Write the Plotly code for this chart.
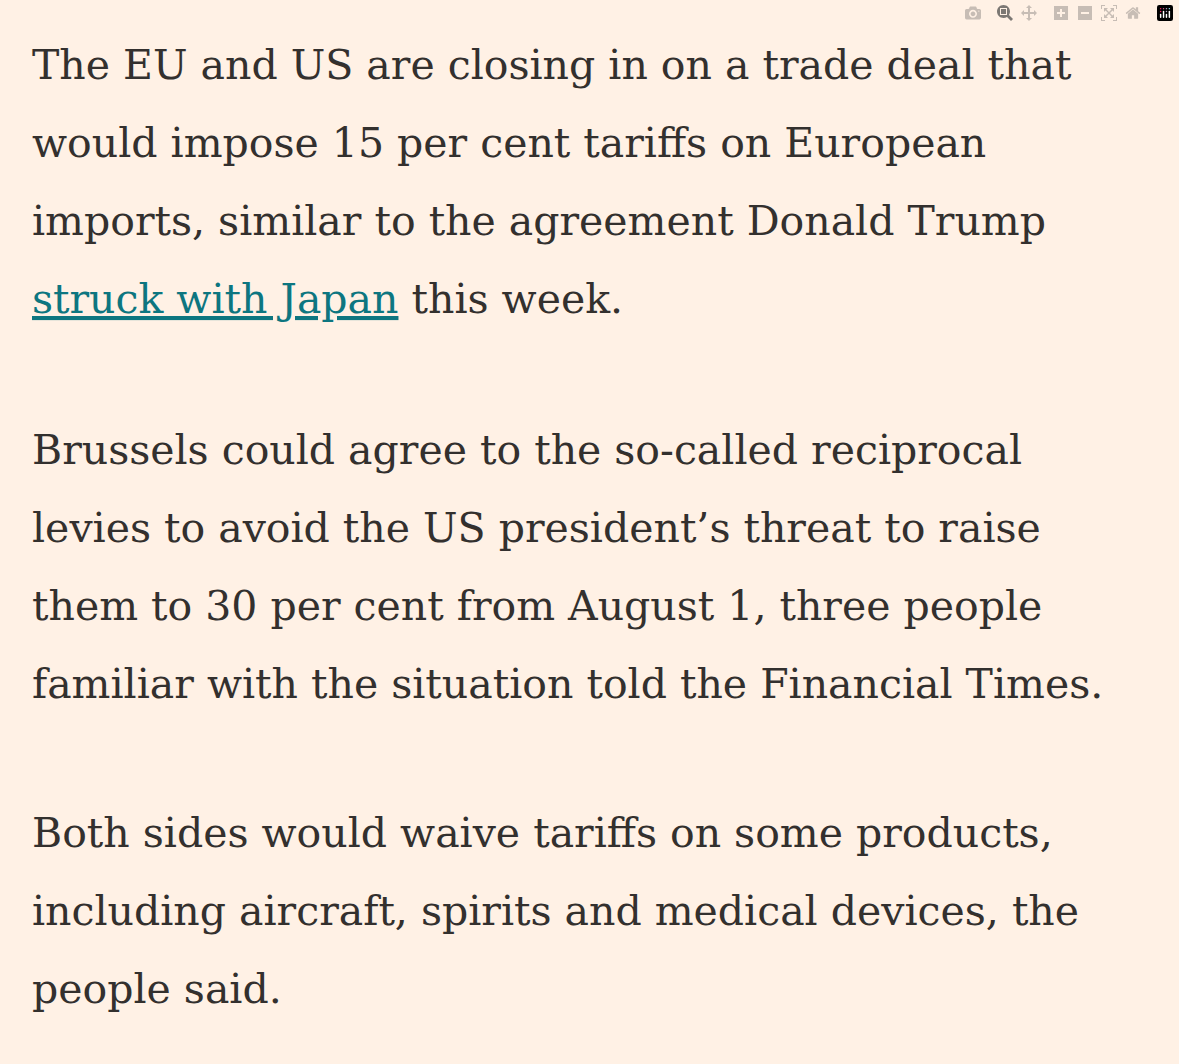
import plotly.graph_objects as go

W, H = 1179, 1064
para1 = ["The EU and US are closing in on a trade deal that",
         "would impose 15 per cent tariffs on European",
         "imports, similar to the agreement Donald Trump",
         "<span style='color:#0D7680;text-decoration:underline'>struck with Japan</span> this week."]
para2 = ["Brussels could agree to the so-called reciprocal",
         "levies to avoid the US president’s threat to raise",
         "them to 30 per cent from August 1, three people",
         "familiar with the situation told the Financial Times."]
para3 = ["Both sides would waive tariffs on some products,",
         "including aircraft, spirits and medical devices, the",
         "people said."]
para_tops = [65, 450, 833]
line_gap = 78

fig = go.Figure()
anns = []
for top, lines in zip(para_tops, [para1, para2, para3]):
    for i, t in enumerate(lines):
        anns.append(dict(text=t, x=30 / W, y=1 - (top + i * line_gap) / H,
                         xref="paper", yref="paper", xanchor="left", yanchor="middle",
                         showarrow=False,
                         font=dict(family="DejaVu Serif", size=41, color="#33302E")))
fig.update_layout(width=W, height=H, margin=dict(l=0, r=0, t=0, b=0),
                  paper_bgcolor="#FFF1E5", plot_bgcolor="#FFF1E5",
                  xaxis=dict(visible=False), yaxis=dict(visible=False),
                  annotations=anns)
fig.write_html("out.html",
               post_script="document.body.style.margin='0';document.body.style.background='#FFF1E5';")
